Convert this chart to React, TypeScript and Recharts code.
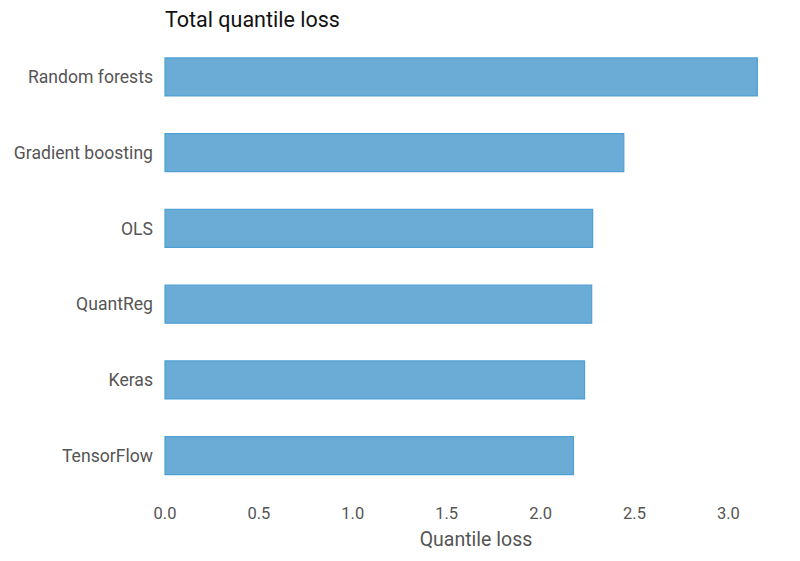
import React from 'react'
import { BarChart, Bar, XAxis, YAxis } from 'recharts'

const models = ['Random forests', 'Gradient boosting', 'OLS', 'QuantReg', 'Keras', 'TensorFlow']
const losses = [3.154, 2.443, 2.277, 2.272, 2.234, 2.175]
const xTicks = [0, 0.5, 1, 1.5, 2, 2.5, 3]

const data = models.map((name, i) => ({ name, loss: losses[i] }))

const font = 'Roboto, "Noto Sans", sans-serif'

export default function App() {
  return (
    <div style={{ position: 'absolute', left: 0, top: 0, width: 800, height: 561, background: '#fff', fontFamily: font }}>
      <div style={{ position: 'absolute', left: 165, top: 7, fontSize: 21.5, color: '#111', lineHeight: '26px' }}>
        Total quantile loss
      </div>
      <BarChart
        width={800}
        height={561}
        data={data}
        layout="vertical"
        margin={{ top: 39, right: 13, bottom: 7.5, left: 0 }}
        barCategoryGap="25%"
      >
        <XAxis
          type="number"
          dataKey="loss"
          domain={[0, 3.312]}
          ticks={xTicks}
          tickFormatter={(v: number) => v.toFixed(1)}
          axisLine={false}
          tickLine={false}
          tickSize={0}
          tickMargin={14}
          height={60}
          tick={{ fill: '#555', fontSize: 16.5, fontFamily: font }}
          label={{ value: 'Quantile loss', position: 'insideBottom', offset: 8, fill: '#555', fontSize: 19.5, fontFamily: font }}
        />
        <YAxis
          type="category"
          dataKey="name"
          width={165}
          axisLine={false}
          tickLine={false}
          tickSize={0}
          tickMargin={12}
          tick={{ fill: '#555', fontSize: 17.6, fontFamily: font }}
        />
        <Bar dataKey="loss" fill="#6aacd6" stroke="#4f9fd3" strokeWidth={1.2} isAnimationActive={false} />
      </BarChart>
    </div>
  )
}
